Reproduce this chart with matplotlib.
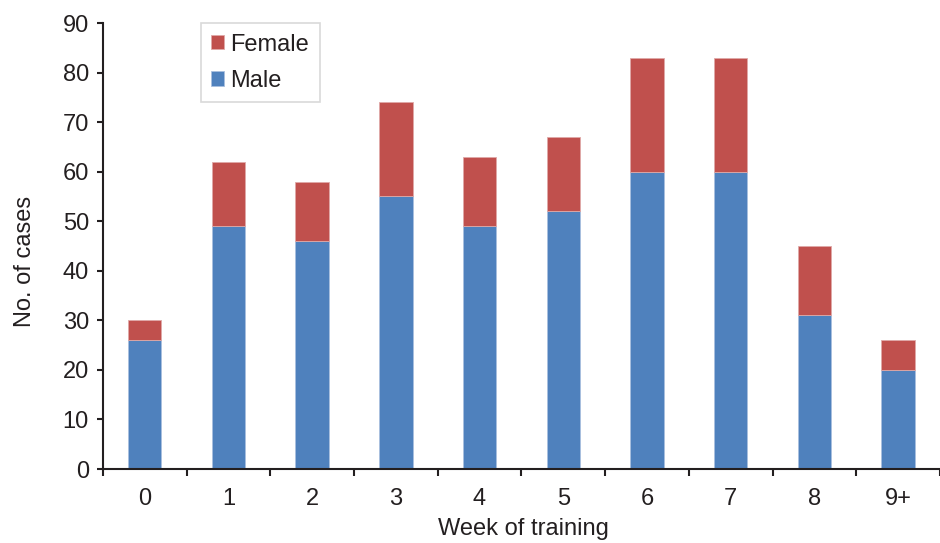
import matplotlib.pyplot as plt
import numpy as np

plt.rcParams["font.family"] = ["Liberation Sans", "DejaVu Sans"]

weeks = ["0", "1", "2", "3", "4", "5", "6", "7", "8", "9+"]
male = [26, 49, 46, 55, 49, 52, 60, 60, 31, 20]
female = [4, 13, 12, 19, 14, 15, 23, 23, 14, 6]

BLUE = "#4F81BD"
RED = "#C0504D"
INK = "#231F20"
FS = 17

W, H = 940, 543
fig = plt.figure(figsize=(W / 100, H / 100), dpi=100)
ax = fig.add_axes([102.8 / W, 74 / H, 1 - 102.8 / W, 446 / H])

x = np.arange(len(weeks))
ax.bar(x, male, width=0.4, color=BLUE, edgecolor="#A9C0DF", linewidth=0.6, label="Male", zorder=2)
ax.bar(x, female, width=0.4, bottom=male, color=RED, edgecolor="#DFA9A8", linewidth=0.6,
       label="Female", zorder=2)

# the last category is cut a little short at the right edge
ax.set_xlim(-0.5, 9.414)
ax.set_ylim(0, 90)
ax.set_yticks(np.arange(0, 91, 10))
ax.set_xticks(x)
ax.set_xticklabels(weeks)
ax.set_xticks(np.arange(-0.5, 10, 1), minor=True)
ax.tick_params(axis="x", which="major", length=0, pad=14, labelsize=FS, labelcolor=INK)
ax.tick_params(axis="x", which="minor", length=5, width=1.5, direction="out", color=INK)
ax.tick_params(axis="y", length=4, width=1.5, direction="out", color=INK, labelsize=FS,
               labelcolor=INK, pad=6)

for side in ("top", "right"):
    ax.spines[side].set_visible(False)
for side in ("left", "bottom"):
    ax.spines[side].set_linewidth(1.5)
    ax.spines[side].set_color(INK)

ax.set_ylabel("No. of cases", fontsize=FS, color=INK, va="center")
ax.yaxis.set_label_coords(-0.093, 0.466)
ax.set_xlabel("Week of training", fontsize=FS, color=INK, va="center")
ax.xaxis.set_label_coords(0.502, -0.135)

handles, labels = ax.get_legend_handles_labels()
leg = ax.legend(handles[::-1], labels[::-1], loc="upper left", bbox_to_anchor=(0.117, 1.0),
                fontsize=FS, frameon=True, fancybox=False, handlelength=0.55, handleheight=0.55,
                handletextpad=0.25, borderpad=0.45, labelspacing=0.6, borderaxespad=0)
leg.get_frame().set_edgecolor("#D0D0D0")
leg.get_frame().set_linewidth(1.2)
for t in leg.get_texts():
    t.set_color(INK)

fig.savefig("out.png", dpi=100)
